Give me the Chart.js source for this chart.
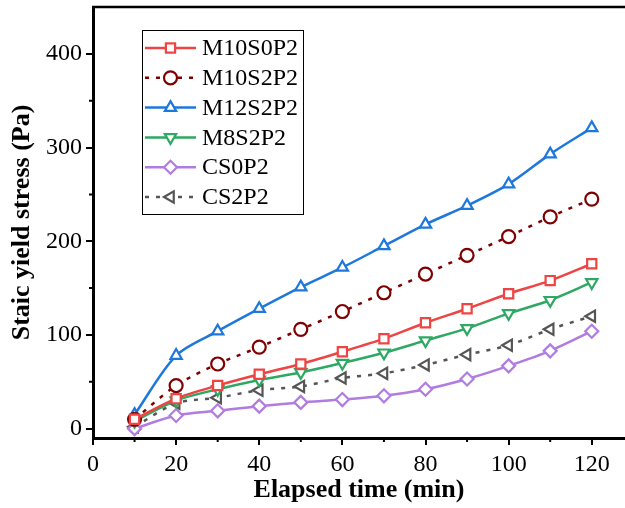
<!DOCTYPE html>
<html>
<head>
<meta charset="utf-8">
<script src="https://cdn.jsdelivr.net/npm/chart.js@4.4.0/dist/chart.umd.min.js"></script>
<style>
  html, body { margin: 0; padding: 0; background: #fff; }
  #wrap { width: 625px; height: 508px; }
</style>
</head>
<body>
<div id="wrap"><canvas id="c" width="625" height="508"></canvas></div>
<script>
// 経過時間 (min)
const times = [10, 20, 30, 40, 50, 60, 70, 80, 90, 100, 110, 120];

const m10s0p2 = [10, 32, 46, 58, 69, 82, 96, 113, 128, 144, 158, 176];
const m10s2p2 = [10, 46, 69, 87, 106, 125, 145, 165, 185, 205, 226, 245];
const m12s2p2 = [15, 78, 104, 128, 151, 172, 195, 218, 238, 261, 293, 321];
const m8s2p2 = [8, 30, 42, 52, 60, 70, 81, 94, 107, 123, 137, 156];
const cs0p2 = [0, 14, 19, 24, 28, 31, 35, 42, 53, 67, 83, 104];
const cs2p2 = [2, 27, 33, 41, 45, 54, 59, 68, 79, 89, 106, 120];

const xTicks = [0, 20, 40, 60, 80, 100, 120];
const yTicks = [0, 100, 200, 300, 400];
const xMinor = [10, 30, 50, 70, 90, 110];
const yMinor = [50, 150, 250, 350];

const FONT = "'Liberation Serif', 'Times New Roman', serif";

function series(label, data, color, style, rot, dash) {
    return {
        label: label,
        data: times.map((t, i) => ({ x: t, y: data[i] })),
        borderColor: color,
        backgroundColor: '#fff',
        borderWidth: 2.5,
        borderDash: dash || [],
        pointStyle: style,
        rotation: rot,
        pointRadius: 6.5,
        pointBorderWidth: 2.2,
        pointBackgroundColor: '#fff',
        tension: 0.3,
        clip: false,
    };
}

const datasets = [
    series('M10S0P2', m10s0p2, '#EE4444', 'rect', 0),
    series('M10S2P2', m10s2p2, '#800000', 'circle', 0, [4, 7]),
    series('M12S2P2', m12s2p2, '#1E78DC', 'triangle', 0),
    series('M8S2P2', m8s2p2, '#2EA862', 'triangle', 180),
    series('CS0P2', cs0p2, '#B07CE0', 'rectRot', 0),
    series('CS2P2', cs2p2, '#555555', 'triangle', 270, [4, 7]),
];

// 枠線・小目盛り・凡例
const extras = {
    id: 'extras',
    afterDraw(chart) {
        const ctx = chart.ctx;
        const a = chart.chartArea;
        const xs = chart.scales.x, ys = chart.scales.y;
        ctx.save();
        ctx.strokeStyle = '#000';
        ctx.lineWidth = 2.5;
        ctx.beginPath();
        ctx.moveTo(a.left - 1, a.top);
        ctx.lineTo(a.right, a.top);
        ctx.stroke();
        ctx.lineWidth = 2;
        ctx.beginPath();
        xMinor.forEach(v => {
            const px = xs.getPixelForValue(v);
            ctx.moveTo(px, a.bottom);
            ctx.lineTo(px, a.bottom + 4);
        });
        yMinor.forEach(v => {
            const py = ys.getPixelForValue(v);
            ctx.moveTo(a.left, py);
            ctx.lineTo(a.left - 4, py);
        });
        ctx.stroke();

        // 凡例
        const bx = 142, by = 30, bw = 161, bh = 184;
        ctx.fillStyle = '#fff';
        ctx.fillRect(bx, by, bw, bh);
        ctx.lineWidth = 1;
        ctx.strokeStyle = '#000';
        ctx.strokeRect(bx + 0.5, by + 0.5, bw, bh);
        datasets.forEach((d, i) => {
            const y = 48 + i * 29.8;
            ctx.strokeStyle = d.borderColor;
            ctx.lineWidth = 2.5;
            ctx.setLineDash(d.borderDash);
            ctx.beginPath();
            ctx.moveTo(145, y);
            ctx.lineTo(196, y);
            ctx.stroke();
            ctx.setLineDash([]);
            ctx.fillStyle = '#fff';
            ctx.lineWidth = 2.2;
            Chart.helpers.drawPoint(ctx, {
                pointStyle: d.pointStyle, rotation: d.rotation,
                radius: 6.5, borderWidth: 2.2
            }, 170.5, y);
            ctx.fillStyle = '#000';
            ctx.font = '24px ' + FONT;
            ctx.textBaseline = 'middle';
            ctx.textAlign = 'left';
            ctx.fillText(d.label, 202, y + 1);
        });
        ctx.restore();
    }
};

new Chart(document.getElementById('c'), {
    type: 'line',
    data: { datasets: datasets },
    plugins: [extras],
    options: {
        responsive: false,
        animation: false,
        layout: { autoPadding: false, padding: { top: 7, right: 0, left: 0, bottom: 0 } },
        plugins: {
            legend: { display: false },
            tooltip: { enabled: false },
        },
        scales: {
            x: {
                type: 'linear',
                min: 0,
                max: 128,
                afterBuildTicks: s => { s.ticks = xTicks.map(v => ({ value: v })); },
                afterFit: s => { s.height = 70; s.paddingLeft = 0; s.paddingRight = 0; },
                border: { color: '#000', width: 3 },
                grid: { drawOnChartArea: false, color: '#000', tickLength: 7, lineWidth: 2 },
                ticks: { color: '#000', font: { family: FONT, size: 24 }, padding: 5, maxRotation: 0 },
                title: {
                    display: true,
                    text: 'Elapsed time (min)',
                    color: '#000',
                    font: { family: FONT, size: 26, weight: 'bold' },
                    padding: { top: 0, bottom: 2 },
                },
            },
            y: {
                type: 'linear',
                min: -10,
                max: 450,
                afterBuildTicks: s => { s.ticks = yTicks.map(v => ({ value: v })); },
                afterFit: s => { s.width = 93; s.paddingTop = 0; s.paddingBottom = 0; },
                border: { color: '#000', width: 3 },
                grid: { drawOnChartArea: false, color: '#000', tickLength: 7, lineWidth: 2 },
                ticks: { color: '#000', font: { family: FONT, size: 24 }, padding: 4 },
                title: {
                    display: true,
                    text: 'Staic yield stress (Pa)',
                    color: '#000',
                    font: { family: FONT, size: 26, weight: 'bold' },
                    padding: { top: 7, bottom: 4 },
                },
            },
        },
    },
});
</script>
</body>
</html>
